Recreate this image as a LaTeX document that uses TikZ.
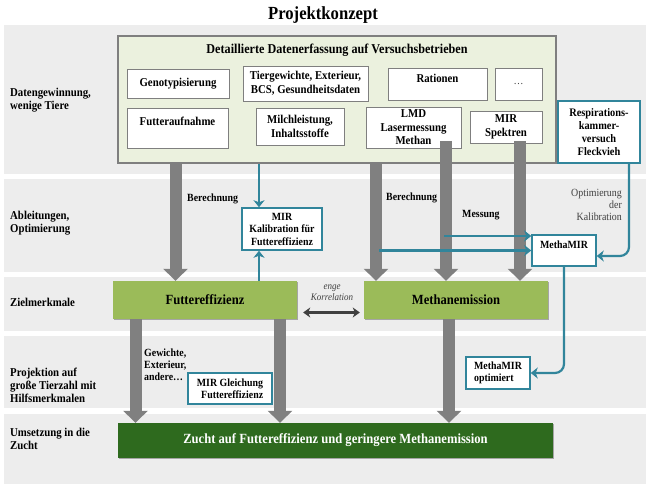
\documentclass[tikz,border=0pt]{standalone}
\usepackage{fontspec}
\setmainfont{Liberation Serif}[FakeStretch=0.9]
\usetikzlibrary{arrows.meta,shadows,calc}
\definecolor{bandgray}{RGB}{237,237,237}
\definecolor{bigfill}{RGB}{235,241,222}
\definecolor{frame}{RGB}{127,127,127}
\definecolor{tealc}{RGB}{49,133,155}
\definecolor{olive}{RGB}{155,187,89}
\definecolor{dkgreen}{RGB}{46,106,30}
\definecolor{arrgray}{RGB}{128,128,128}
\definecolor{txtgray}{RGB}{64,64,64}
\tikzset{
 shd/.style={drop shadow={shadow xshift=1.3pt,shadow yshift=-1.3pt,opacity=0.3,fill=black}},
 sz/.style 2 args={minimum width=#1pt, minimum height=#2pt},
 wbox/.style={shd, draw=frame, line width=0.8pt, fill=white, inner sep=0pt, align=center, font=\bfseries\fontsize{12}{13.5}\selectfont},
 tbox/.style={draw=tealc, line width=1.5pt, fill=white, inner sep=0pt, align=center, font=\bfseries\fontsize{11}{12.5}\selectfont},
 gbox/.style={shd, fill=olive, inner sep=0pt, font=\bfseries\fontsize{14}{16}\selectfont},
 rowlab/.style={anchor=west, align=left, inner sep=0pt, font=\bfseries\fontsize{12}{13}\selectfont},
 note/.style={anchor=west, align=left, inner sep=0pt, font=\bfseries\fontsize{11}{12}\selectfont},
 garrow/.style={draw=arrgray, line width=12pt, -{Triangle[width=24pt,length=12pt]}},
 tarrow/.style={draw=tealc, line width=2.2pt, -{Stealth[width=11pt,length=7pt,inset=2pt]}},
 dblarrow/.style={draw=txtgray, line width=2.2pt, {Stealth[width=10pt,length=7pt,inset=2pt]}-{Stealth[width=10pt,length=7pt,inset=2pt]}},
}
\begin{document}
\begin{tikzpicture}[x=1pt,y=-1pt]
\useasboundingbox (0,0) rectangle (646,484);
\fill[white] (0,0) rectangle (646,484);
\foreach \ya/\yb in {25/174,179/272,277/331,336/408,414/484}
  \fill[bandgray] (4,\ya) rectangle (646,\yb);

\node[font=\bfseries\fontsize{18.5}{20}\selectfont] (title) at (323,15) {Projektkonzept};

% row labels
\node[rowlab] (r1) at (10,100.5) {Datengewinnung,\\wenige Tiere};
\node[rowlab] (r2) at (10,223.5) {Ableitungen,\\Optimierung};
\node[rowlab] (r3) at (10,302) {Zielmerkmale};
\node[rowlab] (r4) at (10,385) {Projektion auf\\große Tierzahl mit\\Hilfsmerkmalen};
\node[rowlab] (r5) at (10,439) {Umsetzung in die\\Zucht};

% data box
\node[shd, draw=frame, line width=2pt, fill=bigfill, inner sep=0pt, sz={438}{127}] (big) at (337,99.5) {};
\node[font=\bfseries\fontsize{13.5}{15}\selectfont] (bigt) at (337,50) {Detaillierte Datenerfassung auf Versuchsbetrieben};
\node[wbox, sz={102}{29}] (geno) at (178,83.5) {Genotypisierung};
\node[wbox, sz={125}{35}] (tier) at (305.5,83.5) {Tiergewichte, Exterieur,\\BCS, Gesundheitsdaten};
\node[wbox, sz={99}{32}] (rat) at (437.5,84) {Rationen\\[-3pt]\mbox{}};
\node[wbox, sz={47}{32}, font=\fontsize{11}{12}\selectfont, text=txtgray] (more) at (518.5,84) {…};
\node[wbox, sz={101}{40}] (fa) at (177.5,128) {Futteraufnahme\\\mbox{}};
\node[wbox, sz={88}{37}] (milch) at (300,126.5) {Milchleistung,\\Inhaltsstoffe};
\node[wbox, sz={95}{41}] (lmd) at (413.5,127.5) {LMD\\Lasermessung\\Methan};
\node[wbox, sz={72}{32}] (spek) at (506,127) {MIR\\Spektren};
\node[tbox, line width=2pt, sz={82}{62}, font=\bfseries\fontsize{11.5}{13}\selectfont] (resp) at (599,132) {Respirations-\\kammer-\\versuch\\Fleckvieh};

% derived boxes
\node[tbox, sz={80}{42}] (cal) at (282,229) {MIR\\Kalibration für\\Futtereffizienz};
\node[tbox, sz={64}{31}] (mm) at (564,250.5) {MethaMIR\\\mbox{}};
\node[tbox, sz={64}{32}, align=left] (mopt) at (498,373) {MethaMIR\\optimiert};
\node[tbox, sz={84}{31}, align=right] (mirgl) at (230,388.5) {MIR Gleichung\\Futtereffizienz};

% target traits
\node[gbox, sz={184}{38}] (fe) at (205,300) {Futtereffizienz};
\node[gbox, sz={184}{38}] (me) at (456,300) {Methanemission};
\node[shd, fill=dkgreen, inner sep=0pt, text=white, font=\bfseries\fontsize{14}{16}\selectfont, sz={435}{35}] (zu) at (335.5,440.5) {Zucht auf Futtereffizienz und geringere Methanemission};

% labels
\node[note] (b1) at (187,199) {Berechnung};
\node[note] (b2) at (386,198) {Berechnung};
\node[note] (mes) at (462,215) {Messung};
\node[anchor=east, align=right, inner sep=0pt, text=txtgray, font=\fontsize{11}{12}\selectfont] (opt) at (622,205) {Optimierung\\der\\Kalibration};
\node[align=center, inner sep=0pt, text=txtgray, font=\itshape\fontsize{10}{11}\selectfont] (kor) at (332,292.5) {enge\\Korrelation};
\node[note] (gew) at (144,364.5) {Gewichte,\\Exterieur,\\andere…};

% gray arrows
\coordinate (x1) at (175.5,0);
\coordinate (x2) at (376,0);
\coordinate (s3) at (446,141);
\coordinate (s4) at (520,141);
\coordinate (x5) at (135.5,0);
\coordinate (x6) at (280,0);
\coordinate (x7) at (449,0);
\draw[garrow] (big.south -| x1) -- (fe.north -| x1);
\draw[garrow] (big.south -| x2) -- (me.north -| x2);
\draw[garrow] (s3) -- (me.north -| s3);
\draw[garrow] (s4) -- (me.north -| s4);
\draw[garrow] (fe.south -| x5) -- (zu.north -| x5);
\draw[garrow] (fe.south -| x6) -- (zu.north -| x6);
\draw[garrow] (me.south -| x7) -- (zu.north -| x7);

% correlation
\draw[dblarrow] ($(fe.east)+(6,12.5)$) -- ($(me.west)+(-4,12.5)$);

% teal arrows
\coordinate (xk) at (259,0);
\draw[tarrow] (big.south -| xk) -- (cal.north -| xk);
\draw[tarrow] (fe.north -| xk) -- (cal.south -| xk);
\coordinate (t1) at (444,236);
\coordinate (t2) at (379,250.5);
\draw[tarrow] (t1) -- (mm.west |- t1);
\draw[tarrow] (t2) -- (mm.west |- t2);
\coordinate (xr) at (629,256);
\draw[tarrow, rounded corners=9pt] (resp.south -| xr) |- (mm.east |- xr);
\draw[tarrow, rounded corners=9pt] (mm.south) |- (mopt.east);
\end{tikzpicture}
\end{document}
